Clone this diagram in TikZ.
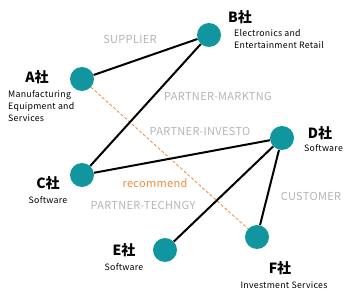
\documentclass[tikz,border=0pt]{standalone}
\usepackage{fontspec}
\setmainfont{Noto Sans CJK JP}
\newfontfamily\spaced[LetterSpace=3]{Noto Sans CJK JP}
\usetikzlibrary{backgrounds}
\definecolor{teal1}{HTML}{11969F}
\definecolor{org}{HTML}{F08A3C}
\definecolor{lgray}{HTML}{B4B4B4}
\begin{document}
\begin{tikzpicture}[x=1pt,y=-1pt,
  dot/.style={circle,fill=teal1,minimum size=24pt,inner sep=0pt},
  link/.style={line width=2pt,black},
  rec/.style={org,line width=0.8pt,dash pattern=on 3pt off 2pt},
  title/.style={font=\fontsize{14}{16}\selectfont\bfseries,inner sep=0pt},
  sub/.style={font=\spaced\fontsize{8.8}{12}\selectfont,inner sep=0pt},
  elab/.style={font=\spaced\fontsize{11}{12}\selectfont,text=lgray,inner sep=0pt}]
\useasboundingbox (0,0) rectangle (350,296);
\node[dot] (A) at (82,79) {};
\node[dot] (B) at (209,35) {};
\node[dot] (C) at (82,175) {};
\node[dot] (D) at (282,138) {};
\node[dot] (E) at (165,250) {};
\node[dot] (F) at (257,237) {};
\begin{scope}[on background layer]
\draw[rec] (A) -- (F);
\draw[link] (A) -- (B);
\draw[link] (C) -- (B);
\draw[link] (C) -- (D);
\draw[link] (E) -- (D);
\draw[link] (F) -- (D);
\end{scope}
% titles
\node[title] (At) at (37,77) {A社};
\node[sub,anchor=west,align=left] (As) at (8,106) {Manufacturing\\Equipment and\\Services};
\node[title] (Bt) at (240,17) {B社};
\node[sub,anchor=west,align=left] (Bs) at (234,39) {Electronics and\\Entertainment Retail};
\node[title] (Ct) at (48,183) {C社};
\node[sub] (Cs) at (48,200) {Software};
\node[title] (Dt) at (320,133) {D社};
\node[sub,anchor=west] (Ds) at (304,148) {Software};
\node[title] (Et) at (124,250) {E社};
\node[sub] (Es) at (124,267) {Software};
\node[title] (Ft) at (280,268) {F社};
\node[sub] (Fs) at (284,285) {Investment Services};
% edge labels
\node[elab] (l1) at (130,39) {SUPPLIER};
\node[elab] (l2) at (218,96) {PARTNER-MARKTNG};
\node[elab] (l3) at (200,131) {PARTNER-INVESTO};
\node[elab] (l4) at (143,205) {PARTNER-TECHNGY};
\node[elab] (l5) at (311,196) {CUSTOMER};
\node[elab,text=org] (l6) at (155,183) {recommend};
\end{tikzpicture}
\end{document}
